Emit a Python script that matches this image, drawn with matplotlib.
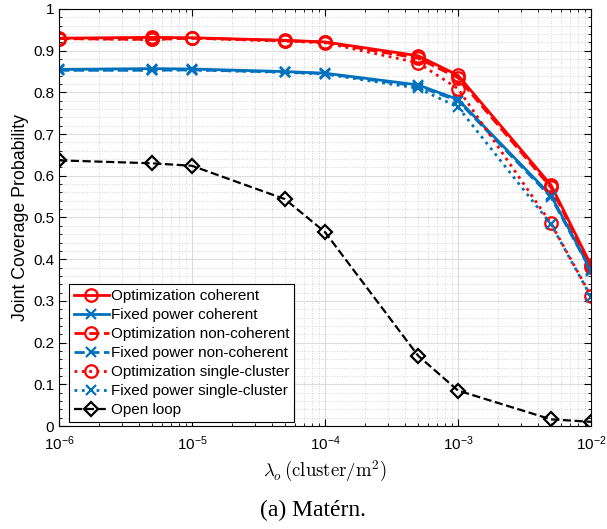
import numpy as np
import matplotlib.pyplot as plt
from matplotlib.ticker import MultipleLocator, LogLocator, NullFormatter, FuncFormatter

plt.rcParams['font.family'] = ['Liberation Sans', 'DejaVu Sans']
plt.rcParams['mathtext.fontset'] = 'cm'

density = [1e-6, 5e-6, 1e-5, 5e-5, 1e-4, 5e-4, 1e-3, 5e-3, 1e-2]

opt_coherent = [0.930, 0.932, 0.931, 0.925, 0.921, 0.888, 0.841, 0.578, 0.386]
fixed_coherent = [0.855, 0.857, 0.856, 0.850, 0.846, 0.818, 0.783, 0.553, 0.374]
opt_noncoherent = [0.929, 0.927, 0.930, 0.924, 0.920, 0.882, 0.835, 0.572, 0.382]
fixed_noncoherent = [0.853, 0.853, 0.854, 0.849, 0.845, 0.815, 0.780, 0.549, 0.372]
opt_single = [0.929, 0.927, 0.930, 0.923, 0.919, 0.871, 0.809, 0.486, 0.312]
fixed_single = [0.854, 0.854, 0.854, 0.848, 0.844, 0.810, 0.765, 0.484, 0.310]
open_loop = [0.637, 0.630, 0.624, 0.544, 0.465, 0.169, 0.085, 0.016, 0.010]

red = (1, 0, 0)
blue = (0, 0.447, 0.741)

fig = plt.figure(figsize=(6.07, 5.29), dpi=100)
ax = fig.add_axes([0.0972, 0.1947, 0.8764, 0.7883])

ax.plot(density, opt_coherent, '-o', color=red, lw=2, ms=9, mfc='none', mew=1.6,
        label='Optimization coherent')
ax.plot(density, fixed_coherent, '-x', color=blue, lw=2, ms=7, mew=1.6,
        label='Fixed power coherent')
ax.plot(density, opt_noncoherent, '--o', color=red, lw=2, ms=9, mfc='none', mew=1.6,
        label='Optimization non-coherent')
ax.plot(density, fixed_noncoherent, '--x', color=blue, lw=2, ms=7, mew=1.6,
        label='Fixed power non-coherent')
ax.plot(density, opt_single, ':o', color=red, lw=2, ms=9, mfc='none', mew=1.6,
        label='Optimization single-cluster')
ax.plot(density, fixed_single, ':x', color=blue, lw=2, ms=7, mew=1.6,
        label='Fixed power single-cluster')
ax.plot(density, open_loop, '--D', color='k', lw=1.6, ms=7, mfc='none', mew=1.6,
        label='Open loop')

ax.set_xscale('log')
ax.set_xlim(1e-6, 1e-2)
ax.set_ylim(0, 1)
ax.yaxis.set_major_locator(MultipleLocator(0.1))
ax.yaxis.set_minor_locator(MultipleLocator(0.02))
ax.yaxis.set_major_formatter(FuncFormatter(lambda v, pos: f'{v:.1f}'.rstrip('0').rstrip('.') or '0'))
ax.xaxis.set_major_locator(LogLocator(base=10, numticks=10))
ax.xaxis.set_minor_locator(LogLocator(base=10, subs=np.arange(2, 10), numticks=100))
ax.xaxis.set_major_formatter(FuncFormatter(
    lambda v, pos: r'$\mathregular{10^{%d}}$' % int(round(np.log10(v)))))
ax.xaxis.set_minor_formatter(NullFormatter())

ax.grid(True, which='major', color='#dcdcdc', lw=0.8, ls='-')
ax.grid(True, which='minor', color='#c8c8c8', lw=0.6, ls=(0, (1, 2)))
ax.set_axisbelow(True)
ax.tick_params(which='both', direction='in', top=True, right=True, labelsize=11)
ax.tick_params(which='major', length=5)
ax.tick_params(which='minor', length=2.5)
ax.tick_params(axis='x', pad=6)
for sp in ax.spines.values():
    sp.set_linewidth(0.8)

ax.set_ylabel('Joint Coverage Probability', fontsize=12.8, labelpad=3)
ax.set_xlabel(r'$\lambda_o\,(\mathrm{cluster/m}^2)$', fontsize=13.5, labelpad=4)

leg = ax.legend(loc='lower left', bbox_to_anchor=(0.019, 0.01), borderaxespad=0,
                fontsize=11, fancybox=False, edgecolor='k', framealpha=1,
                handlelength=2.3, handletextpad=0.15, labelspacing=0.33, borderpad=0.3)
leg.get_frame().set_linewidth(0.8)

fig.text(0.515, 0.036, '(a) Matérn.', ha='center', va='center', fontsize=17,
         family='Liberation Serif')

fig.savefig('out.png', dpi=100)
